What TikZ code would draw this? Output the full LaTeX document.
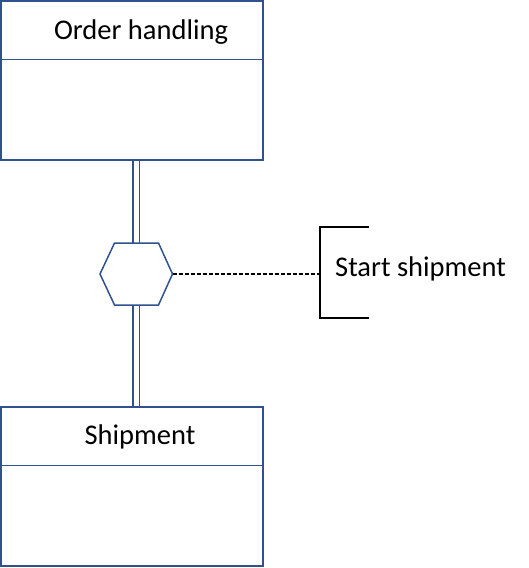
\documentclass[tikz,border=0pt]{standalone}
\usepackage{fontspec}
\setmainfont{Carlito}
\definecolor{ublue}{RGB}{47,82,143}
\begin{document}
\begin{tikzpicture}[x=1pt,y=-1pt,
  boxline/.style={draw=ublue,line width=1.6pt},
  divline/.style={draw=ublue,line width=0.8pt},
  lbl/.style={font=\fontsize{28.5}{32}\selectfont,inner sep=0pt},
  dbl/.style={draw=ublue,line width=1.5pt}]
\useasboundingbox (0,0) rectangle (528,568);
% top class
\node[boxline,minimum width=262pt,minimum height=159pt,inner sep=0pt] (ob) at (132,80.5) {};
\coordinate (od1) at (1,59);
\coordinate (od2) at (263,59);
\draw[divline] (od1) -- (od2);
\node[lbl] (otxt) at (141,32) {Order handling};
% bottom class
\node[boxline,minimum width=262pt,minimum height=159pt,inner sep=0pt] (sb) at (132,486.5) {};
\coordinate (sd1) at (1,465);
\coordinate (sd2) at (263,465);
\draw[divline] (sd1) -- (sd2);
\node[lbl] (stxt) at (140,436.5) {Shipment};
% hexagon
\coordinate (h1) at (100,274);
\coordinate (h2) at (114.5,243);
\coordinate (h3) at (158.5,243);
\coordinate (h4) at (172.5,274);
\coordinate (h5) at (158.5,305);
\coordinate (h6) at (114.5,305);
\draw[boxline,line width=1.5pt,line join=miter] (h1) -- (h2) -- (h3) -- (h4) -- (h5) -- (h6) -- cycle;
% double lines
\coordinate (ta) at (133,160.5);
\coordinate (tb) at (139.5,160.5);
\coordinate (ha) at (133,243);
\coordinate (hb) at (139.5,243);
\coordinate (la) at (133,305);
\coordinate (lb) at (139.5,305);
\coordinate (ba) at (133,406.5);
\coordinate (bb) at (139.5,406.5);
\draw[dbl] (ta) -- (ha);
\draw[dbl] (tb) -- (hb);
\draw[dbl] (la) -- (ba);
\draw[dbl] (lb) -- (bb);
% note bracket
\coordinate (bt) at (369,227);
\coordinate (btl) at (320,227);
\coordinate (bbl) at (320,318);
\coordinate (bbr) at (369,318);
\draw[black,line width=1.3pt] (bt) -- (btl) -- (bbl) -- (bbr);
\coordinate (dm) at (320,274);
\draw[black,line width=1.4pt,dash pattern=on 4pt off 2pt] (h4) -- (dm);
\node[lbl,anchor=west] (ntxt) at (335,268.5) {Start shipment};
\end{tikzpicture}
\end{document}
